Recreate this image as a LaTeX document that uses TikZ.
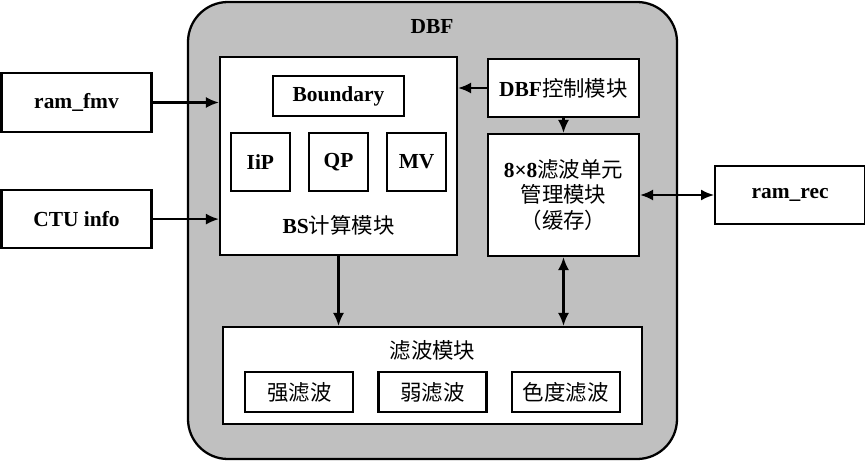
\documentclass[tikz,border=0pt]{standalone}
\usepackage{fontspec}
\setmainfont{Liberation Serif}
\newfontfamily\cjk{Noto Sans CJK SC}
\usepackage{tikz}
\usepackage{xcolor}
\usetikzlibrary{calc}
\usetikzlibrary{positioning}
\usetikzlibrary{shapes,arrows.meta}
\definecolor{dbfgray}{RGB}{192,192,192}
\begin{document}
\fontsize{12.2}{13.4}\selectfont
\begin{tikzpicture} [>={Latex[length=2.6mm, width=2.2mm]}, node distance = 1cm]
            % Set primary nodes
            \tikzset{
                dbfNode/.style={
                        draw,
                        rectangle,
                        rounded corners = 0.8cm,
                        fill = dbfgray,
                        line width = 1.3pt,
                        minimum width = 9.78cm,
                        minimum height = 9.14cm
                    }
            }
            \tikzset{
                blockNode/.style={
                        draw,
                        rectangle,
                        fill = white,
                        line width = 1.2pt,
                        inner sep = 0pt
                    }
            }
            \tikzset{
                ioNode/.style={
                        blockNode,
                        minimum height = 1.17cm,
                        minimum width = 3cm,
                        font = \bfseries
                    }
            }
            \tikzset{
                smallNode/.style={
                        blockNode,
                        minimum height = 1.16cm,
                        minimum width = 1.18cm,
                        font = \bfseries
                    }
            }
            \tikzset{
                filterNode/.style={
                        blockNode,
                        minimum height = 0.8cm,
                        minimum width = 2.16cm,
                        font = \cjk
                    }
            }
            \tikzset{
                labelNode/.style={
                        inner sep = 0pt
                    }
            }
            \tikzset{
                arrow/.style={
                        line width = 1.2pt,
                        ->
                    }
            }
            \useasboundingbox (0,0) rectangle (17.3,9.26);
            % Placing nodes
            \node[dbfNode](dbf) at (8.65,4.65){};
            \node[labelNode, font = \bfseries](title) at (8.64,8.72){DBF};
            \node[ioNode](ramfmv) at (1.53,7.21){ram\_fmv};
            \node[ioNode, below = 1.12cm of ramfmv](ctu){CTU info};
            \node[blockNode, minimum width = 4.74cm, minimum height = 3.96cm](bs) at (6.77,6.14){};
            \node[blockNode, minimum width = 2.62cm, minimum height = 0.8cm, font = \bfseries](boundary) at (6.77,7.34){Boundary};
            \node[smallNode](qp) at (6.77,6.02){QP};
            \node[smallNode, left = 0.34cm of qp](iip){IiP};
            \node[smallNode, right = 0.34cm of qp](mv){MV};
            \node[labelNode](bslabel) at (6.77,4.76){\textbf{BS}{\cjk 计算模块}};
            \node[blockNode, minimum width = 3.02cm, minimum height = 1.16cm](ctrl) at (11.27,7.5){\textbf{DBF}{\cjk 控制模块}};
            \node[blockNode, minimum width = 3.02cm, minimum height = 2.44cm, align = center](unit) at (11.27,5.36){\textbf{8×8}{\cjk 滤波单元}\\[1.2pt]{\cjk 管理模块}\\[1.2pt]{\cjk （缓存）}};
            \node[ioNode, right = 1.48cm of unit](ramrec){ram\_rec};
            \node[blockNode, minimum width = 8.38cm, minimum height = 1.94cm](filter) at (8.65,1.75){};
            \node[labelNode, font = \cjk](filterlabel) at (8.65,2.26){滤波模块};
            \node[filterNode](weak) at (8.65,1.42){弱滤波};
            \node[filterNode, left = 0.46cm of weak](strong){强滤波};
            \node[filterNode, right = 0.46cm of weak](chroma){色度滤波};
            % Draw arrows
            \draw[arrow](ramfmv.east) -- (ramfmv.east -| bs.west);
            \draw[arrow](ctu.east) -- (ctu.east -| bs.west);
            \draw[arrow](ctrl.west) -- (ctrl.west -| bs.east);
            \draw[arrow](ctrl.south) -- (unit.north);
            \draw[arrow](bs.south) -- (bs.south |- filter.north);
            \draw[arrow, <->](unit.south) -- (unit.south |- filter.north);
            \draw[arrow, <->](unit.east) -- (ramrec.west);
        \end{tikzpicture}
\end{document}
